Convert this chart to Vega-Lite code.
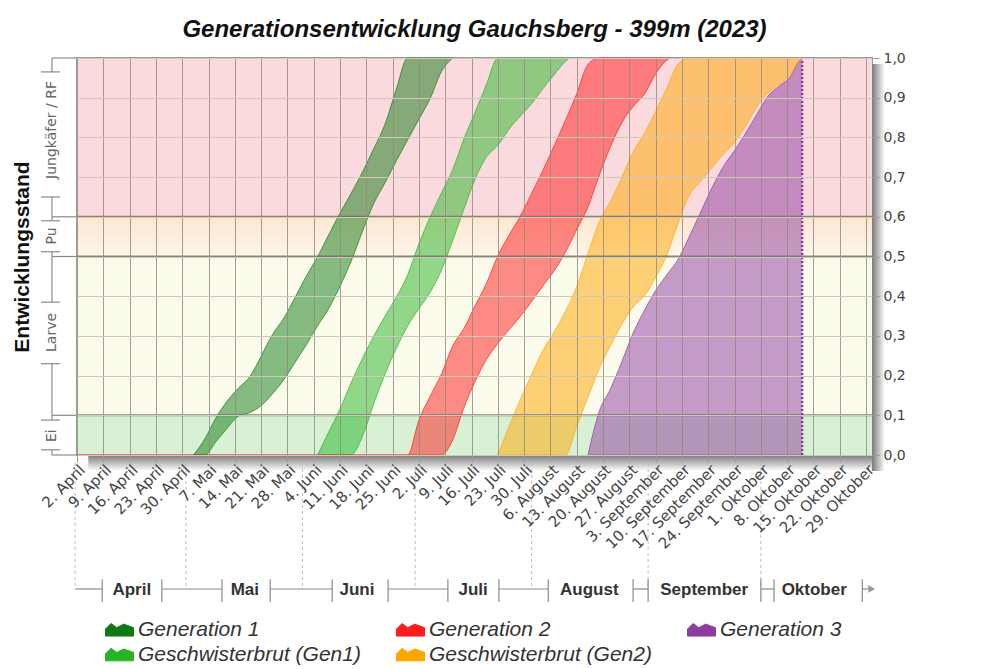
{
  "$schema": "https://vega.github.io/schema/vega-lite/v6.json",
  "width": 795,
  "height": 397,
  "autosize": {"type": "none"},
  "padding": {"left": 77, "top": 58, "right": 120, "bottom": 214},
  "background": "white",
  "title": {"text": "Generationsentwicklung Gauchsberg - 399m (2023)", "font": "Liberation Sans", "fontSize": 24, "fontWeight": "bold", "fontStyle": "italic", "color": "#111", "anchor": "middle", "offset": 9},
  "config": {"view": {"stroke": "#9a9a9a", "strokeWidth": 2}},
  "datasets": {
    "one": [{"k": 1}],
    "stages": [
      {"stage": "Ei", "lo": 0, "hi": 0.1},
      {"stage": "Larve", "lo": 0.1, "hi": 0.5},
      {"stage": "Puppe", "lo": 0.5, "hi": 0.6},
      {"stage": "Jungkäfer", "lo": 0.6, "hi": 1}
    ],
    "bounds": [{"v": 0.1}, {"v": 0.5}, {"v": 0.6}],
    "dev": [
      {"s": "Generation 1", "date": "2023-05-03", "hi": 0, "lo": 0},
      {"s": "Generation 1", "date": "2023-05-06", "hi": 0.04, "lo": 0},
      {"s": "Generation 1", "date": "2023-05-09", "hi": 0.094, "lo": 0.034},
      {"s": "Generation 1", "date": "2023-05-12", "hi": 0.136, "lo": 0.068},
      {"s": "Generation 1", "date": "2023-05-15", "hi": 0.169, "lo": 0.098},
      {"s": "Generation 1", "date": "2023-05-18", "hi": 0.197, "lo": 0.107},
      {"s": "Generation 1", "date": "2023-05-21", "hi": 0.249, "lo": 0.124},
      {"s": "Generation 1", "date": "2023-05-24", "hi": 0.303, "lo": 0.154},
      {"s": "Generation 1", "date": "2023-05-27", "hi": 0.344, "lo": 0.189},
      {"s": "Generation 1", "date": "2023-05-30", "hi": 0.396, "lo": 0.233},
      {"s": "Generation 1", "date": "2023-06-02", "hi": 0.45, "lo": 0.277},
      {"s": "Generation 1", "date": "2023-06-05", "hi": 0.499, "lo": 0.325},
      {"s": "Generation 1", "date": "2023-06-08", "hi": 0.555, "lo": 0.369},
      {"s": "Generation 1", "date": "2023-06-11", "hi": 0.609, "lo": 0.425},
      {"s": "Generation 1", "date": "2023-06-14", "hi": 0.66, "lo": 0.489},
      {"s": "Generation 1", "date": "2023-06-17", "hi": 0.713, "lo": 0.564},
      {"s": "Generation 1", "date": "2023-06-20", "hi": 0.772, "lo": 0.634},
      {"s": "Generation 1", "date": "2023-06-23", "hi": 0.834, "lo": 0.686},
      {"s": "Generation 1", "date": "2023-06-26", "hi": 0.922, "lo": 0.741},
      {"s": "Generation 1", "date": "2023-06-29", "hi": 1, "lo": 0.794},
      {"s": "Generation 1", "date": "2023-07-02", "hi": 1, "lo": 0.846},
      {"s": "Generation 1", "date": "2023-07-05", "hi": 1, "lo": 0.898},
      {"s": "Generation 1", "date": "2023-07-08", "hi": 1, "lo": 0.966},
      {"s": "Generation 1", "date": "2023-07-11", "hi": 1, "lo": 1},
      {"s": "Geschwisterbrut (Gen1)", "date": "2023-06-05", "hi": 0, "lo": 0},
      {"s": "Geschwisterbrut (Gen1)", "date": "2023-06-08", "hi": 0.058, "lo": 0},
      {"s": "Geschwisterbrut (Gen1)", "date": "2023-06-11", "hi": 0.116, "lo": 0},
      {"s": "Geschwisterbrut (Gen1)", "date": "2023-06-14", "hi": 0.183, "lo": 0},
      {"s": "Geschwisterbrut (Gen1)", "date": "2023-06-17", "hi": 0.244, "lo": 0.048},
      {"s": "Geschwisterbrut (Gen1)", "date": "2023-06-20", "hi": 0.3, "lo": 0.13},
      {"s": "Geschwisterbrut (Gen1)", "date": "2023-06-23", "hi": 0.35, "lo": 0.204},
      {"s": "Geschwisterbrut (Gen1)", "date": "2023-06-26", "hi": 0.398, "lo": 0.269},
      {"s": "Geschwisterbrut (Gen1)", "date": "2023-06-29", "hi": 0.454, "lo": 0.325},
      {"s": "Geschwisterbrut (Gen1)", "date": "2023-07-02", "hi": 0.532, "lo": 0.369},
      {"s": "Geschwisterbrut (Gen1)", "date": "2023-07-05", "hi": 0.6, "lo": 0.41},
      {"s": "Geschwisterbrut (Gen1)", "date": "2023-07-08", "hi": 0.66, "lo": 0.466},
      {"s": "Geschwisterbrut (Gen1)", "date": "2023-07-11", "hi": 0.719, "lo": 0.541},
      {"s": "Geschwisterbrut (Gen1)", "date": "2023-07-14", "hi": 0.797, "lo": 0.62},
      {"s": "Geschwisterbrut (Gen1)", "date": "2023-07-17", "hi": 0.864, "lo": 0.696},
      {"s": "Geschwisterbrut (Gen1)", "date": "2023-07-20", "hi": 0.934, "lo": 0.751},
      {"s": "Geschwisterbrut (Gen1)", "date": "2023-07-23", "hi": 1, "lo": 0.78},
      {"s": "Geschwisterbrut (Gen1)", "date": "2023-07-26", "hi": 1, "lo": 0.821},
      {"s": "Geschwisterbrut (Gen1)", "date": "2023-07-29", "hi": 1, "lo": 0.854},
      {"s": "Geschwisterbrut (Gen1)", "date": "2023-08-01", "hi": 1, "lo": 0.885},
      {"s": "Geschwisterbrut (Gen1)", "date": "2023-08-04", "hi": 1, "lo": 0.923},
      {"s": "Geschwisterbrut (Gen1)", "date": "2023-08-07", "hi": 1, "lo": 0.958},
      {"s": "Geschwisterbrut (Gen1)", "date": "2023-08-10", "hi": 1, "lo": 0.992},
      {"s": "Geschwisterbrut (Gen1)", "date": "2023-08-11", "hi": 1, "lo": 1},
      {"s": "Generation 2", "date": "2023-04-02", "hi": 0, "lo": 0},
      {"s": "Generation 2", "date": "2023-06-29", "hi": 0, "lo": 0},
      {"s": "Generation 2", "date": "2023-07-02", "hi": 0.088, "lo": 0},
      {"s": "Generation 2", "date": "2023-07-05", "hi": 0.148, "lo": 0},
      {"s": "Generation 2", "date": "2023-07-08", "hi": 0.204, "lo": 0},
      {"s": "Generation 2", "date": "2023-07-11", "hi": 0.275, "lo": 0.038},
      {"s": "Generation 2", "date": "2023-07-14", "hi": 0.319, "lo": 0.12},
      {"s": "Generation 2", "date": "2023-07-17", "hi": 0.377, "lo": 0.186},
      {"s": "Generation 2", "date": "2023-07-20", "hi": 0.433, "lo": 0.241},
      {"s": "Generation 2", "date": "2023-07-23", "hi": 0.502, "lo": 0.281},
      {"s": "Generation 2", "date": "2023-07-26", "hi": 0.554, "lo": 0.316},
      {"s": "Generation 2", "date": "2023-07-29", "hi": 0.602, "lo": 0.349},
      {"s": "Generation 2", "date": "2023-08-01", "hi": 0.659, "lo": 0.387},
      {"s": "Generation 2", "date": "2023-08-04", "hi": 0.717, "lo": 0.426},
      {"s": "Generation 2", "date": "2023-08-07", "hi": 0.779, "lo": 0.464},
      {"s": "Generation 2", "date": "2023-08-10", "hi": 0.843, "lo": 0.511},
      {"s": "Generation 2", "date": "2023-08-13", "hi": 0.91, "lo": 0.568},
      {"s": "Generation 2", "date": "2023-08-16", "hi": 0.984, "lo": 0.625},
      {"s": "Generation 2", "date": "2023-08-19", "hi": 1, "lo": 0.705},
      {"s": "Generation 2", "date": "2023-08-22", "hi": 1, "lo": 0.777},
      {"s": "Generation 2", "date": "2023-08-25", "hi": 1, "lo": 0.837},
      {"s": "Generation 2", "date": "2023-08-28", "hi": 1, "lo": 0.878},
      {"s": "Generation 2", "date": "2023-08-31", "hi": 1, "lo": 0.909},
      {"s": "Generation 2", "date": "2023-09-03", "hi": 1, "lo": 0.96},
      {"s": "Generation 2", "date": "2023-09-06", "hi": 1, "lo": 0.995},
      {"s": "Generation 2", "date": "2023-09-07", "hi": 1, "lo": 1},
      {"s": "Geschwisterbrut (Gen2)", "date": "2023-07-23", "hi": 0, "lo": 0},
      {"s": "Geschwisterbrut (Gen2)", "date": "2023-07-26", "hi": 0.072, "lo": 0},
      {"s": "Geschwisterbrut (Gen2)", "date": "2023-07-29", "hi": 0.14, "lo": 0},
      {"s": "Geschwisterbrut (Gen2)", "date": "2023-08-01", "hi": 0.203, "lo": 0},
      {"s": "Geschwisterbrut (Gen2)", "date": "2023-08-04", "hi": 0.263, "lo": 0},
      {"s": "Geschwisterbrut (Gen2)", "date": "2023-08-07", "hi": 0.31, "lo": 0},
      {"s": "Geschwisterbrut (Gen2)", "date": "2023-08-10", "hi": 0.362, "lo": 0},
      {"s": "Geschwisterbrut (Gen2)", "date": "2023-08-13", "hi": 0.424, "lo": 0.072},
      {"s": "Geschwisterbrut (Gen2)", "date": "2023-08-16", "hi": 0.508, "lo": 0.146},
      {"s": "Geschwisterbrut (Gen2)", "date": "2023-08-19", "hi": 0.587, "lo": 0.218},
      {"s": "Geschwisterbrut (Gen2)", "date": "2023-08-22", "hi": 0.639, "lo": 0.276},
      {"s": "Geschwisterbrut (Gen2)", "date": "2023-08-25", "hi": 0.699, "lo": 0.329},
      {"s": "Geschwisterbrut (Gen2)", "date": "2023-08-28", "hi": 0.763, "lo": 0.373},
      {"s": "Geschwisterbrut (Gen2)", "date": "2023-08-31", "hi": 0.81, "lo": 0.401},
      {"s": "Geschwisterbrut (Gen2)", "date": "2023-09-03", "hi": 0.865, "lo": 0.448},
      {"s": "Geschwisterbrut (Gen2)", "date": "2023-09-06", "hi": 0.924, "lo": 0.504},
      {"s": "Geschwisterbrut (Gen2)", "date": "2023-09-09", "hi": 0.985, "lo": 0.585},
      {"s": "Geschwisterbrut (Gen2)", "date": "2023-09-12", "hi": 1, "lo": 0.655},
      {"s": "Geschwisterbrut (Gen2)", "date": "2023-09-15", "hi": 1, "lo": 0.69},
      {"s": "Geschwisterbrut (Gen2)", "date": "2023-09-18", "hi": 1, "lo": 0.724},
      {"s": "Geschwisterbrut (Gen2)", "date": "2023-09-21", "hi": 1, "lo": 0.758},
      {"s": "Geschwisterbrut (Gen2)", "date": "2023-09-24", "hi": 1, "lo": 0.788},
      {"s": "Geschwisterbrut (Gen2)", "date": "2023-09-27", "hi": 1, "lo": 0.83},
      {"s": "Geschwisterbrut (Gen2)", "date": "2023-09-30", "hi": 1, "lo": 0.878},
      {"s": "Geschwisterbrut (Gen2)", "date": "2023-10-03", "hi": 1, "lo": 0.913},
      {"s": "Geschwisterbrut (Gen2)", "date": "2023-10-06", "hi": 1, "lo": 0.934},
      {"s": "Geschwisterbrut (Gen2)", "date": "2023-10-09", "hi": 1, "lo": 0.96},
      {"s": "Geschwisterbrut (Gen2)", "date": "2023-10-11", "hi": 1, "lo": 0.99},
      {"s": "Geschwisterbrut (Gen2)", "date": "2023-10-12", "hi": 1, "lo": 1},
      {"s": "Generation 3", "date": "2023-08-16", "hi": 0, "lo": 0},
      {"s": "Generation 3", "date": "2023-08-19", "hi": 0.11, "lo": 0},
      {"s": "Generation 3", "date": "2023-08-22", "hi": 0.167, "lo": 0},
      {"s": "Generation 3", "date": "2023-08-25", "hi": 0.235, "lo": 0},
      {"s": "Generation 3", "date": "2023-08-28", "hi": 0.307, "lo": 0},
      {"s": "Generation 3", "date": "2023-08-31", "hi": 0.364, "lo": 0},
      {"s": "Generation 3", "date": "2023-09-03", "hi": 0.414, "lo": 0},
      {"s": "Generation 3", "date": "2023-09-06", "hi": 0.454, "lo": 0},
      {"s": "Generation 3", "date": "2023-09-09", "hi": 0.493, "lo": 0},
      {"s": "Generation 3", "date": "2023-09-12", "hi": 0.551, "lo": 0},
      {"s": "Generation 3", "date": "2023-09-15", "hi": 0.612, "lo": 0},
      {"s": "Generation 3", "date": "2023-09-18", "hi": 0.673, "lo": 0},
      {"s": "Generation 3", "date": "2023-09-21", "hi": 0.726, "lo": 0},
      {"s": "Generation 3", "date": "2023-09-24", "hi": 0.767, "lo": 0},
      {"s": "Generation 3", "date": "2023-09-27", "hi": 0.811, "lo": 0},
      {"s": "Generation 3", "date": "2023-09-30", "hi": 0.859, "lo": 0},
      {"s": "Generation 3", "date": "2023-10-03", "hi": 0.905, "lo": 0},
      {"s": "Generation 3", "date": "2023-10-06", "hi": 0.93, "lo": 0},
      {"s": "Generation 3", "date": "2023-10-09", "hi": 0.955, "lo": 0},
      {"s": "Generation 3", "date": "2023-10-11", "hi": 0.99, "lo": 0},
      {"s": "Generation 3", "date": "2023-10-12", "hi": 1, "lo": 0}
    ],
    "mlines": [
      {"a": "2023-04-01T12:00Z", "b": "2023-04-08T17:00Z"},
      {"a": "2023-04-24T14:00Z", "b": "2023-05-10T14:00Z"},
      {"a": "2023-05-23T10:00Z", "b": "2023-06-08T22:00Z"},
      {"a": "2023-06-23T19:00Z", "b": "2023-07-09T17:00Z"},
      {"a": "2023-07-23T07:00Z", "b": "2023-08-05T10:00Z"},
      {"a": "2023-08-28T00:00Z", "b": "2023-09-01T00:00Z"},
      {"a": "2023-10-01T00:00Z", "b": "2023-10-04T12:00Z"},
      {"a": "2023-10-28T00:00Z", "b": "2023-10-30T06:00Z"}
    ],
    "mticks": [
      {"t": "2023-04-08T17:00Z"}, {"t": "2023-04-24T14:00Z"}, {"t": "2023-05-10T14:00Z"},
      {"t": "2023-05-23T10:00Z"}, {"t": "2023-06-08T22:00Z"}, {"t": "2023-06-23T19:00Z"},
      {"t": "2023-07-09T17:00Z"}, {"t": "2023-07-23T07:00Z"}, {"t": "2023-08-05T10:00Z"},
      {"t": "2023-08-28T00:00Z"}, {"t": "2023-09-01T00:00Z"}, {"t": "2023-10-01T00:00Z"},
      {"t": "2023-10-04T12:00Z"}, {"t": "2023-10-28T00:00Z"}
    ],
    "mstarts": [
      {"t": "2023-04-01T12:00Z"}, {"t": "2023-05-01"}, {"t": "2023-06-01"}, {"t": "2023-07-01"},
      {"t": "2023-08-01"}, {"t": "2023-09-01"}, {"t": "2023-10-01"}
    ],
    "mlabels": [
      {"m": "April", "t": "2023-04-16T14:00Z"},
      {"m": "Mai", "t": "2023-05-16T16:00Z"},
      {"m": "Juni", "t": "2023-06-15T12:00Z"},
      {"m": "Juli", "t": "2023-07-16T10:00Z"},
      {"m": "August", "t": "2023-08-16T08:00Z"},
      {"m": "September", "t": "2023-09-15T22:00Z"},
      {"m": "Oktober", "t": "2023-10-15T05:00Z"}
    ],
    "bseg": [
      {"lo": 0, "hi": 0.013}, {"lo": 0.088, "hi": 0.1},
      {"lo": 0.1, "hi": 0.23}, {"lo": 0.385, "hi": 0.5},
      {"lo": 0.5, "hi": 0.512}, {"lo": 0.59, "hi": 0.6},
      {"lo": 0.6, "hi": 0.65}, {"lo": 0.965, "hi": 1}
    ],
    "bticks": [{"v": 0.013}, {"v": 0.088}, {"v": 0.23}, {"v": 0.385}, {"v": 0.512}, {"v": 0.59}, {"v": 0.65}, {"v": 0.965}],
    "bconn": [{"v": 0}, {"v": 0.1}, {"v": 0.5}, {"v": 0.6}, {"v": 1}]
  },
  "layer": [
    {
      "data": {"name": "one"},
      "mark": {"type": "rect", "fill": {"gradient": "linear", "x1": 0, "y1": 0, "x2": 0, "y2": 1, "stops": [{"offset": 0, "color": "#7a7a7a"}, {"offset": 1, "color": "#ffffff"}]}},
      "encoding": {
        "x": {"datum": {"year": 2023, "month": 4, "date": 5, "utc": true}, "type": "temporal", "axis": null, "scale": {"type": "utc", "domain": [{"year": 2023, "month": 4, "date": 2, "utc": true}, {"year": 2023, "month": 10, "date": 30, "hours": 14, "utc": true}]}},
        "x2": {"datum": {"year": 2023, "month": 11, "date": 2, "utc": true}},
        "y": {"datum": 0, "type": "quantitative", "axis": null, "scale": {"domain": [0, 1], "nice": false}},
        "y2": {"datum": -0.04}
      }
    },
    {
      "data": {"name": "one"},
      "mark": {"type": "rect", "fill": {"gradient": "linear", "x1": 0, "y1": 0, "x2": 1, "y2": 0, "stops": [{"offset": 0, "color": "#7a7a7a"}, {"offset": 1, "color": "#ffffff"}]}},
      "encoding": {
        "x": {"datum": {"year": 2023, "month": 10, "date": 30, "hours": 14, "utc": true}, "type": "temporal", "axis": null, "scale": {"type": "utc", "domain": [{"year": 2023, "month": 4, "date": 2, "utc": true}, {"year": 2023, "month": 10, "date": 30, "hours": 14, "utc": true}]}},
        "x2": {"datum": {"year": 2023, "month": 11, "date": 3, "utc": true}},
        "y": {"datum": 0.985, "type": "quantitative", "axis": null, "scale": {"domain": [0, 1], "nice": false}},
        "y2": {"datum": -0.04}
      }
    },
    {
      "data": {"name": "stages"},
      "mark": {"type": "rect"},
      "encoding": {
        "x": {"datum": {"year": 2023, "month": 4, "date": 2, "utc": true}, "type": "temporal", "axis": null, "scale": {"type": "utc", "domain": [{"year": 2023, "month": 4, "date": 2, "utc": true}, {"year": 2023, "month": 10, "date": 30, "hours": 14, "utc": true}]}},
        "x2": {"datum": {"year": 2023, "month": 10, "date": 30, "hours": 14, "utc": true}},
        "y": {"field": "lo", "type": "quantitative", "scale": {"domain": [0, 1], "nice": false},
          "axis": {"orient": "left", "values": [0.05, 0.31, 0.553, 0.82], "labelExpr": "datum.value < 0.1 ? 'Ei' : datum.value < 0.5 ? 'Larve' : datum.value < 0.6 ? 'Pu' : 'Jungkäfer / RF'", "labelAngle": 270, "labelAlign": "center", "labelBaseline": "bottom", "labelFont": "DejaVu Sans", "labelFontSize": 14, "labelColor": "#666", "ticks": false, "tickSize": 0, "labelPadding": 19, "domain": false, "grid": false, "title": "Entwicklungsstand", "titleFont": "Liberation Sans", "titleFontSize": 21, "titleFontWeight": "bold", "titleColor": "#111", "titlePadding": 12}},
        "y2": {"field": "hi"},
        "fill": {"field": "stage", "type": "nominal", "legend": null, "scale": {"domain": ["Ei", "Larve", "Puppe", "Jungkäfer"], "range": ["#d8f0d4", "#fbfbec", "#fdecda", "#fadadc"]}}
      }
    },
    {
      "data": {"name": "stages"},
      "transform": [{"filter": "datum.stage === 'Puppe'"}],
      "mark": {"type": "rect", "fill": {"gradient": "linear", "x1": 0, "y1": 0, "x2": 0, "y2": 1, "stops": [{"offset": 0, "color": "#fde6d0"}, {"offset": 1, "color": "#fdf5e9"}]}},
      "encoding": {
        "x": {"datum": {"year": 2023, "month": 4, "date": 2, "utc": true}, "type": "temporal", "axis": null, "scale": {"type": "utc", "domain": [{"year": 2023, "month": 4, "date": 2, "utc": true}, {"year": 2023, "month": 10, "date": 30, "hours": 14, "utc": true}]}},
        "x2": {"datum": {"year": 2023, "month": 10, "date": 30, "hours": 14, "utc": true}},
        "y": {"field": "hi", "type": "quantitative", "axis": null, "scale": {"domain": [0, 1], "nice": false}},
        "y2": {"field": "lo"}
      }
    },
    {
      "data": {"name": "dev"},
      "mark": {"type": "area", "fillOpacity": 0.5, "interpolate": "monotone"},
      "encoding": {
        "x": {"field": "date", "type": "temporal", "scale": {"type": "utc", "domain": [{"year": 2023, "month": 4, "date": 2, "utc": true}, {"year": 2023, "month": 10, "date": 30, "hours": 14, "utc": true}]},
          "axis": {"orient": "bottom", "tickCount": {"interval": "week", "step": 1}, "labelExpr": "utcdate(datum.value) + '. ' + ['Januar','Februar','März','April','Mai','Juni','Juli','August','September','Oktober','November','Dezember'][utcmonth(datum.value)]", "labelAngle": -45, "labelAlign": "right", "labelBaseline": "top", "labelFont": "DejaVu Sans", "labelFontSize": 15, "labelColor": "#444", "labelPadding": 0, "labelOverlap": false, "labelFlush": false, "labelBound": false, "tickSize": 7, "tickColor": "#999", "domain": false, "grid": true, "gridColor": "#8f8880", "gridOpacity": 0.8, "title": null, "zindex": 1}},
        "y": {"field": "hi", "type": "quantitative", "stack": null, "scale": {"domain": [0, 1], "nice": false},
          "axis": {"orient": "right", "values": [0, 0.1, 0.2, 0.3, 0.4, 0.5, 0.6, 0.7, 0.8, 0.9, 1], "labelExpr": "replace(format(datum.value, '.1f'), '.', ',')", "labelFont": "DejaVu Sans", "labelFontSize": 14, "labelColor": "#444", "tickSize": 7, "tickColor": "#999", "labelPadding": 4, "domain": false, "grid": true, "gridColor": "#cfc8bc", "title": null, "zindex": 1}},
        "y2": {"field": "lo"},
        "color": {"field": "s", "type": "nominal",
          "scale": {"domain": ["Generation 1", "Generation 2", "Generation 3", "Geschwisterbrut (Gen1)", "Geschwisterbrut (Gen2)"], "range": ["#0f7a14", "#ff1c1c", "#8e3ca0", "#26b426", "#ffa500"]},
          "legend": {"orient": "none", "legendX": 28, "legendY": 557, "direction": "horizontal", "columns": 3, "title": null, "symbolType": "M-1,0.45L-1,-0.05L-0.6,-0.45L-0.2,-0.15L0.3,-0.4L1,-0.15L1,0.45Z", "symbolSize": 784, "symbolStrokeColor": "#222", "symbolStrokeWidth": 1, "symbolOpacity": 1, "labelFont": "Liberation Sans", "labelFontSize": 21, "labelFontStyle": "italic", "labelColor": "#333", "columnPadding": 33, "rowPadding": 0, "labelOffset": 4, "labelLimit": 400, "padding": 0,
            "encode": {"symbols": {"update": {"fillOpacity": {"value": 1}}}}}}
      }
    },
    {
      "data": {"name": "dev"},
      "mark": {"type": "line", "strokeWidth": 1, "opacity": 0.7, "interpolate": "monotone"},
      "encoding": {
        "x": {"field": "date", "type": "temporal", "axis": null, "scale": {"type": "utc", "domain": [{"year": 2023, "month": 4, "date": 2, "utc": true}, {"year": 2023, "month": 10, "date": 30, "hours": 14, "utc": true}]}},
        "y": {"field": "hi", "type": "quantitative", "axis": null, "scale": {"domain": [0, 1], "nice": false}},
        "color": {"field": "s", "type": "nominal", "legend": null}
      }
    },
    {
      "data": {"name": "dev"},
      "mark": {"type": "line", "strokeWidth": 1, "opacity": 0.7, "interpolate": "monotone"},
      "encoding": {
        "x": {"field": "date", "type": "temporal", "axis": null, "scale": {"type": "utc", "domain": [{"year": 2023, "month": 4, "date": 2, "utc": true}, {"year": 2023, "month": 10, "date": 30, "hours": 14, "utc": true}]}},
        "y": {"field": "lo", "type": "quantitative", "axis": null, "scale": {"domain": [0, 1], "nice": false}},
        "color": {"field": "s", "type": "nominal", "legend": null}
      }
    },
    {
      "data": {"name": "bounds"},
      "mark": {"type": "rule", "color": "#6f6a5e", "strokeWidth": 2, "opacity": 0.8},
      "encoding": {
        "y": {"field": "v", "type": "quantitative", "axis": null, "scale": {"domain": [0, 1], "nice": false}}
      }
    },
    {
      "data": {"name": "one"},
      "mark": {"type": "rule", "color": "#8e3ca0", "strokeWidth": 2.5, "strokeDash": [2, 2]},
      "encoding": {
        "x": {"datum": {"year": 2023, "month": 10, "date": 12, "utc": true}, "type": "temporal", "axis": null, "scale": {"type": "utc", "domain": [{"year": 2023, "month": 4, "date": 2, "utc": true}, {"year": 2023, "month": 10, "date": 30, "hours": 14, "utc": true}]}},
        "y": {"datum": 0, "type": "quantitative", "axis": null, "scale": {"domain": [0, 1], "nice": false}},
        "y2": {"datum": 1}
      }
    },
    {
      "data": {"name": "mstarts"},
      "mark": {"type": "rule", "color": "#bdbdbd", "strokeWidth": 1, "strokeDash": [3, 3]},
      "encoding": {
        "x": {"field": "t", "type": "temporal", "axis": null, "scale": {"type": "utc", "domain": [{"year": 2023, "month": 4, "date": 2, "utc": true}, {"year": 2023, "month": 10, "date": 30, "hours": 14, "utc": true}]}},
        "y": {"datum": -0.02, "type": "quantitative", "axis": null, "scale": {"domain": [0, 1], "nice": false}},
        "y2": {"datum": -0.3375}
      }
    },
    {
      "data": {"name": "mlines"},
      "mark": {"type": "rule", "color": "#8a8a8a", "strokeWidth": 1.2},
      "encoding": {
        "x": {"field": "a", "type": "temporal", "axis": null, "scale": {"type": "utc", "domain": [{"year": 2023, "month": 4, "date": 2, "utc": true}, {"year": 2023, "month": 10, "date": 30, "hours": 14, "utc": true}]}},
        "x2": {"field": "b"},
        "y": {"datum": -0.3375, "type": "quantitative", "axis": null, "scale": {"domain": [0, 1], "nice": false}}
      }
    },
    {
      "data": {"name": "mticks"},
      "mark": {"type": "rule", "color": "#8a8a8a", "strokeWidth": 1.2},
      "encoding": {
        "x": {"field": "t", "type": "temporal", "axis": null, "scale": {"type": "utc", "domain": [{"year": 2023, "month": 4, "date": 2, "utc": true}, {"year": 2023, "month": 10, "date": 30, "hours": 14, "utc": true}]}},
        "y": {"datum": -0.313, "type": "quantitative", "axis": null, "scale": {"domain": [0, 1], "nice": false}},
        "y2": {"datum": -0.37}
      }
    },
    {
      "data": {"name": "one"},
      "mark": {"type": "point", "shape": "triangle-right", "filled": true, "color": "#9a9a9a", "size": 60, "opacity": 1},
      "encoding": {
        "x": {"datum": {"year": 2023, "month": 10, "date": 30, "hours": 12, "utc": true}, "type": "temporal", "axis": null, "scale": {"type": "utc", "domain": [{"year": 2023, "month": 4, "date": 2, "utc": true}, {"year": 2023, "month": 10, "date": 30, "hours": 14, "utc": true}]}},
        "y": {"datum": -0.3375, "type": "quantitative", "axis": null, "scale": {"domain": [0, 1], "nice": false}}
      }
    },
    {
      "data": {"name": "mlabels"},
      "mark": {"type": "text", "font": "Liberation Sans", "fontSize": 17, "fontWeight": "bold", "color": "#333", "baseline": "middle", "align": "center"},
      "encoding": {
        "x": {"field": "t", "type": "temporal", "axis": null, "scale": {"type": "utc", "domain": [{"year": 2023, "month": 4, "date": 2, "utc": true}, {"year": 2023, "month": 10, "date": 30, "hours": 14, "utc": true}]}},
        "y": {"datum": -0.34, "type": "quantitative", "axis": null, "scale": {"domain": [0, 1], "nice": false}},
        "text": {"field": "m"}
      }
    },
    {
      "data": {"name": "bseg"},
      "mark": {"type": "rule", "color": "#8a8a8a", "strokeWidth": 1.2},
      "encoding": {
        "x": {"datum": {"year": 2023, "month": 3, "date": 26, "hours": 8, "utc": true}, "type": "temporal", "axis": null, "scale": {"type": "utc", "domain": [{"year": 2023, "month": 4, "date": 2, "utc": true}, {"year": 2023, "month": 10, "date": 30, "hours": 14, "utc": true}]}},
        "y": {"field": "lo", "type": "quantitative", "axis": null, "scale": {"domain": [0, 1], "nice": false}},
        "y2": {"field": "hi"}
      }
    },
    {
      "data": {"name": "bticks"},
      "mark": {"type": "rule", "color": "#8a8a8a", "strokeWidth": 1.2},
      "encoding": {
        "x": {"datum": {"year": 2023, "month": 3, "date": 23, "hours": 10, "utc": true}, "type": "temporal", "axis": null, "scale": {"type": "utc", "domain": [{"year": 2023, "month": 4, "date": 2, "utc": true}, {"year": 2023, "month": 10, "date": 30, "hours": 14, "utc": true}]}},
        "x2": {"datum": {"year": 2023, "month": 3, "date": 28, "hours": 12, "utc": true}},
        "y": {"field": "v", "type": "quantitative", "axis": null, "scale": {"domain": [0, 1], "nice": false}}
      }
    },
    {
      "data": {"name": "bconn"},
      "mark": {"type": "rule", "color": "#8a8a8a", "strokeWidth": 1.2},
      "encoding": {
        "x": {"datum": {"year": 2023, "month": 3, "date": 26, "hours": 8, "utc": true}, "type": "temporal", "axis": null, "scale": {"type": "utc", "domain": [{"year": 2023, "month": 4, "date": 2, "utc": true}, {"year": 2023, "month": 10, "date": 30, "hours": 14, "utc": true}]}},
        "x2": {"datum": {"year": 2023, "month": 4, "date": 1, "hours": 18, "utc": true}},
        "y": {"field": "v", "type": "quantitative", "axis": null, "scale": {"domain": [0, 1], "nice": false}}
      }
    }
  ],
  "resolve": {"axis": {"x": "independent", "y": "independent"}}
}
